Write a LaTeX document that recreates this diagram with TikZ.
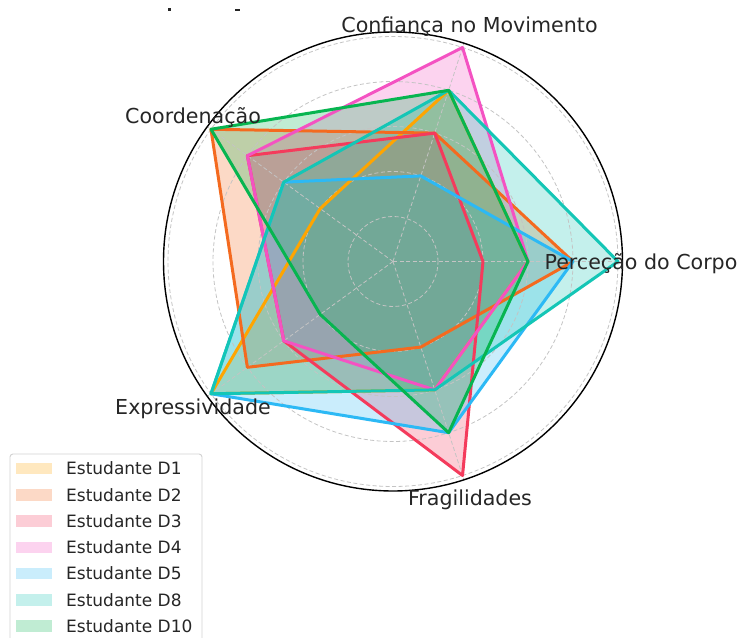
\documentclass[tikz,border=0pt]{standalone}
\usepackage{fontspec}
\setmainfont{DejaVu Sans}
\definecolor{cA}{HTML}{FFA500}
\definecolor{cB}{HTML}{F46A1F}
\definecolor{cC}{HTML}{F43B5C}
\definecolor{cD}{HTML}{F452C2}
\definecolor{cE}{HTML}{2CB9F5}
\definecolor{cF}{HTML}{14C6B6}
\definecolor{cG}{HTML}{07B550}
\definecolor{txt}{HTML}{262626}
\definecolor{gridc}{HTML}{C4C4C4}
\tikzset{
  gridline/.style={draw=gridc, line width=0.8pt, dash pattern=on 4pt off 2.5pt},
  series/.style={line width=3pt, line join=round},
  seriesfill/.style={fill opacity=0.25},
  axlabel/.style={font=\fontsize{20.6}{24}\selectfont, text=txt, inner sep=0pt, anchor=base},
  legtext/.style={font=\fontsize{17}{20}\selectfont, text=txt, inner sep=0pt, anchor=base west},
}
\begin{document}
\begin{tikzpicture}[x=1pt,y=1pt]
\useasboundingbox (0,0) rectangle (740,-638);
\fill[white] (0,0) rectangle (740,-638);
% fragments of a cropped title
\fill[txt] (168,-8) rectangle (170.5,-10.5);
\fill[txt] (235,-9) rectangle (240,-11);
\begin{scope}[shift={(393,-261.5)}]
  \coordinate (ctr) at (0,0);
  % fills
  \foreach \col/\a/\b/\c/\d/\e in {cA/3/4/2/5/3, cB/4/3/5/4/2, cC/2/3/4/3/5, cD/3/5/4/3/3, cE/4/2/3/5/4, cF/5/4/3/5/3, cG/3/4/5/2/4} {
    \fill[\col, seriesfill] (0:\a*45) -- (72:\b*45) -- (144:\c*45) -- (216:\d*45) -- (288:\e*45) -- cycle;
  }
  % grid
  \foreach \r in {1,...,5} {
    \draw[gridline] (ctr) circle[radius=\r*45pt];
  }
  \foreach \t in {0,72,144,216,288} {
    \draw[gridline] (ctr) -- (\t:229.5);
  }
  % lines
  \foreach \col/\a/\b/\c/\d/\e in {cA/3/4/2/5/3, cB/4/3/5/4/2, cC/2/3/4/3/5, cD/3/5/4/3/3, cE/4/2/3/5/4, cF/5/4/3/5/3, cG/3/4/5/2/4} {
    \draw[\col, series] (0:\a*45) -- (72:\b*45) -- (144:\c*45) -- (216:\d*45) -- (288:\e*45) -- cycle;
  }
  \draw[black, line width=1.4pt] (ctr) circle[radius=229.5pt];
\end{scope}
% axis labels
\node[axlabel] (lperc) at (641,-269) {Perceção do Corpo};
\node[axlabel] (lconf) at (469.5,-32.5) {Confiança no Movimento};
\node[axlabel] (lcoord) at (193,-123) {Coordenação};
\node[axlabel] (lexpr) at (193,-414.5) {Expressividade};
\node[axlabel] (lfrag) at (470,-505) {Fragilidades};
% legend
\draw[draw=gray!35, fill=white, fill opacity=0.8, rounded corners=3pt, line width=0.9pt] (10,-454) rectangle (202,-660);
\foreach \col/\lab/\i in {cA/D1/0, cB/D2/1, cC/D3/2, cD/D4/3, cE/D5/4, cF/D8/5, cG/D10/6} {
  \pgfmathsetmacro{\yc}{468.6+26.25*\i}
  \fill[\col, seriesfill] (16,-\yc+5.8) rectangle (52,-\yc-5.8);
  \node[legtext] (leg\i) at (66,-\yc-6.2) {Estudante \lab};
}
\end{tikzpicture}
\end{document}
